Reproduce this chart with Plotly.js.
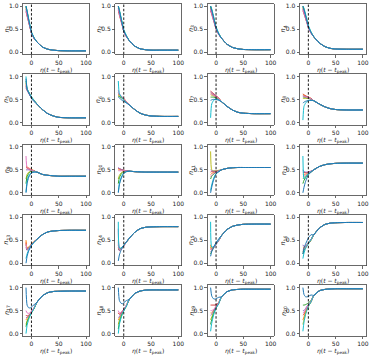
<!DOCTYPE html>
<html>
<head>
<meta charset="utf-8">
<script src="https://cdn.plot.ly/plotly-3.0.1.min.js"></script>
<style>
  html, body { margin: 0; padding: 0; background: #fff; }
  #plot { width: 374px; height: 357px; }
</style>
</head>
<body>
<div id="plot"></div>
<script>
// early part of each curve is read at these x, the shared tail at X_TAIL
const X_HEAD = [-10, -8, -5, -2, 0, 5];
const X_TAIL = [10, 20, 30, 40, 50, 70, 100];

// curve order in every panel: red, orange, olive, green, purple, pink, cyan, blue
const COLORS = ['#d62728', '#ff7f0e', '#bcbd22', '#2ca02c', '#9467bd', '#e377c2', '#17becf', '#1f77b4'];

const n1Head = [[0.88,0.78,0.64,0.5,0.41,0.29],[0.95,0.84,0.67,0.51,0.42,0.29],[1.0,0.88,0.7,0.53,0.43,0.3],[0.98,0.87,0.69,0.52,0.42,0.3],
  [0.93,0.83,0.66,0.51,0.41,0.29],[0.9,0.8,0.65,0.5,0.41,0.29],[1.0,0.9,0.72,0.55,0.44,0.31],[1.0,0.88,0.69,0.52,0.42,0.3]];
const n1Tail = [0.22,0.11,0.06,0.04,0.03,0.025,0.025];

const n2Head = [[0.9,0.8,0.67,0.54,0.45,0.33],[0.96,0.86,0.71,0.56,0.46,0.34],[1.0,0.9,0.74,0.58,0.47,0.35],[1.0,0.89,0.73,0.57,0.46,0.34],
  [0.95,0.85,0.7,0.55,0.45,0.33],[0.93,0.83,0.69,0.55,0.45,0.33],[1.0,0.92,0.76,0.6,0.49,0.36],[1.0,0.89,0.72,0.56,0.46,0.34]];
const n2Tail = [0.25,0.13,0.07,0.05,0.04,0.04,0.04];

const n3Head = [[0.9,0.82,0.7,0.58,0.5,0.38],[0.95,0.87,0.74,0.6,0.51,0.39],[1.0,0.92,0.78,0.63,0.53,0.4],[0.98,0.9,0.76,0.61,0.52,0.39],
  [0.94,0.86,0.73,0.6,0.51,0.38],[0.92,0.84,0.71,0.58,0.5,0.38],[1.0,0.94,0.8,0.65,0.55,0.41],[1.0,0.91,0.76,0.61,0.52,0.39]];
const n3Tail = [0.3,0.17,0.1,0.07,0.055,0.05,0.05];

const n4Head = [[0.9,0.83,0.72,0.61,0.53,0.41],[0.95,0.88,0.76,0.63,0.54,0.42],[1.0,0.93,0.8,0.66,0.56,0.43],[0.98,0.91,0.78,0.64,0.55,0.42],
  [0.94,0.87,0.75,0.63,0.54,0.41],[0.92,0.85,0.73,0.61,0.53,0.41],[1.0,0.95,0.82,0.68,0.58,0.44],[1.0,0.92,0.78,0.64,0.55,0.42]];
const n4Tail = [0.33,0.2,0.12,0.08,0.065,0.06,0.06];

const n5Head = [[0.75,0.7,0.64,0.58,0.54,0.47],[0.8,0.71,0.65,0.58,0.54,0.47],[0.85,0.72,0.65,0.59,0.55,0.47],[0.9,0.73,0.66,0.59,0.55,0.47],
  [0.78,0.7,0.63,0.57,0.53,0.46],[0.82,0.71,0.64,0.57,0.53,0.46],[1.0,0.74,0.66,0.6,0.56,0.48],[0.95,0.72,0.64,0.57,0.52,0.45]];
const n5Tail = [0.4,0.28,0.19,0.14,0.11,0.1,0.1];

const n6Head = [[0.6,0.6,0.57,0.54,0.52,0.45],[0.62,0.6,0.57,0.54,0.52,0.45],[0.58,0.57,0.55,0.52,0.5,0.44],[0.57,0.56,0.54,0.51,0.49,0.43],
  [0.65,0.61,0.57,0.53,0.5,0.44],[0.7,0.62,0.58,0.54,0.51,0.45],[0.9,0.62,0.57,0.52,0.49,0.43],[0.55,0.53,0.5,0.47,0.46,0.42]];
const n6Tail = [0.38,0.28,0.2,0.16,0.14,0.13,0.13];

const n7Head = [[0.68,0.66,0.63,0.6,0.58,0.53],[0.64,0.62,0.6,0.58,0.56,0.52],[0.6,0.59,0.58,0.56,0.55,0.51],[0.55,0.55,0.55,0.54,0.53,0.5],
  [0.66,0.64,0.61,0.59,0.57,0.52],[0.62,0.61,0.59,0.57,0.56,0.51],[0.1,0.4,0.47,0.5,0.5,0.49],[0.48,0.49,0.5,0.5,0.5,0.48]];
const n7Tail = [0.45,0.35,0.27,0.22,0.2,0.19,0.19];

const n8Head = [[0.62,0.6,0.58,0.56,0.55,0.52],[0.6,0.59,0.57,0.55,0.54,0.52],[0.52,0.52,0.52,0.52,0.52,0.5],[0.55,0.55,0.54,0.53,0.53,0.51],
  [0.58,0.57,0.56,0.55,0.54,0.51],[0.57,0.56,0.55,0.54,0.54,0.51],[0.05,0.35,0.42,0.46,0.47,0.48],[0.42,0.44,0.46,0.47,0.48,0.48]];
const n8Tail = [0.47,0.4,0.34,0.3,0.28,0.27,0.27];

const n9Head = [[0.55,0.54,0.52,0.5,0.5,0.47],[0.58,0.56,0.54,0.52,0.51,0.48],[0.3,0.4,0.45,0.47,0.48,0.47],[0.2,0.35,0.42,0.46,0.47,0.47],
  [0.5,0.5,0.5,0.49,0.49,0.47],[0.8,0.55,0.53,0.51,0.5,0.47],[0.02,0.25,0.37,0.42,0.44,0.45],[0.0,0.2,0.34,0.4,0.43,0.45]];
const n9Tail = [0.45,0.4,0.38,0.37,0.36,0.36,0.36];

const n10Head = [[0.53,0.52,0.51,0.5,0.49,0.48],[0.5,0.5,0.5,0.49,0.49,0.48],[0.3,0.38,0.43,0.46,0.47,0.47],[0.2,0.33,0.4,0.44,0.46,0.47],
  [0.55,0.53,0.51,0.5,0.49,0.48],[0.48,0.48,0.48,0.48,0.48,0.47],[0.02,0.2,0.33,0.4,0.43,0.46],[0.0,0.18,0.3,0.38,0.42,0.46]];
const n10Tail = [0.47,0.46,0.455,0.45,0.45,0.45,0.45];

const n11Head = [[0.45,0.46,0.46,0.46,0.47,0.48],[0.4,0.42,0.44,0.45,0.46,0.48],[0.9,0.5,0.48,0.48,0.48,0.49],[0.3,0.36,0.4,0.43,0.45,0.47],
  [0.5,0.48,0.47,0.47,0.47,0.48],[0.35,0.39,0.42,0.44,0.45,0.47],[0.05,0.17,0.3,0.38,0.42,0.46],[0.0,0.12,0.26,0.36,0.41,0.46]];
const n11Tail = [0.5,0.53,0.545,0.55,0.55,0.55,0.55];

const n12Head = [[0.45,0.44,0.44,0.44,0.45,0.47],[0.4,0.4,0.41,0.42,0.43,0.46],[0.3,0.33,0.37,0.4,0.42,0.46],[0.2,0.27,0.33,0.38,0.41,0.45],
  [0.5,0.46,0.45,0.45,0.45,0.47],[0.35,0.36,0.39,0.41,0.43,0.46],[0.8,0.3,0.35,0.39,0.42,0.46],[0.0,0.12,0.25,0.34,0.39,0.45]];
const n12Tail = [0.5,0.57,0.61,0.63,0.64,0.645,0.645];

const n13Head = [[0.45,0.3,0.33,0.38,0.41,0.47],[0.5,0.33,0.35,0.39,0.42,0.47],[0.4,0.32,0.35,0.38,0.41,0.47],[0.3,0.3,0.33,0.37,0.4,0.46],
  [0.35,0.28,0.32,0.37,0.4,0.46],[0.42,0.3,0.33,0.38,0.41,0.47],[0.1,0.2,0.29,0.35,0.39,0.46],[0.0,0.15,0.27,0.34,0.39,0.46]];
const n13Tail = [0.52,0.62,0.68,0.7,0.71,0.715,0.715];

const n14Head = [[0.4,0.28,0.3,0.35,0.38,0.46],[0.35,0.28,0.31,0.35,0.38,0.46],[0.5,0.3,0.32,0.36,0.39,0.46],[0.3,0.3,0.32,0.36,0.39,0.46],
  [0.45,0.27,0.3,0.35,0.38,0.46],[0.75,0.3,0.31,0.35,0.38,0.46],[0.9,0.33,0.33,0.36,0.39,0.46],[0.05,0.18,0.28,0.35,0.39,0.47]];
const n14Tail = [0.54,0.67,0.75,0.78,0.79,0.795,0.795];

const n15Head = [[0.3,0.32,0.35,0.39,0.42,0.5],[0.4,0.3,0.34,0.38,0.42,0.5],[0.35,0.31,0.34,0.39,0.42,0.5],[0.2,0.26,0.32,0.38,0.41,0.5],
  [0.25,0.28,0.33,0.38,0.41,0.49],[0.33,0.3,0.33,0.38,0.42,0.5],[0.9,0.35,0.36,0.4,0.43,0.51],[0.15,0.25,0.33,0.4,0.45,0.53]];
const n15Tail = [0.6,0.73,0.8,0.83,0.845,0.85,0.85];

const n16Head = [[0.3,0.32,0.36,0.4,0.43,0.51],[0.35,0.34,0.37,0.41,0.44,0.52],[0.25,0.3,0.35,0.4,0.43,0.51],[0.2,0.27,0.34,0.39,0.42,0.5],
  [0.4,0.36,0.38,0.41,0.44,0.52],[0.28,0.3,0.35,0.4,0.43,0.51],[0.1,0.22,0.32,0.39,0.43,0.52],[0.2,0.33,0.42,0.5,0.55,0.62]];
const n16Tail = [0.62,0.76,0.84,0.87,0.88,0.885,0.885];

const n17Head = [[0.4,0.38,0.4,0.44,0.48,0.56],[0.3,0.33,0.38,0.43,0.47,0.56],[0.2,0.28,0.35,0.42,0.46,0.55],[0.15,0.25,0.34,0.41,0.45,0.55],
  [0.35,0.35,0.39,0.43,0.47,0.56],[0.5,0.45,0.44,0.46,0.49,0.57],[0.0,0.18,0.31,0.4,0.45,0.55],[1.0,0.62,0.56,0.56,0.58,0.63]];
const n17Tail = [0.68,0.82,0.89,0.915,0.92,0.925,0.925];

const n18Head = [[0.45,0.42,0.45,0.5,0.53,0.62],[0.3,0.34,0.41,0.47,0.51,0.61],[0.2,0.3,0.39,0.46,0.5,0.61],[0.1,0.24,0.36,0.45,0.5,0.6],
  [0.35,0.37,0.43,0.48,0.52,0.61],[0.5,0.45,0.46,0.5,0.53,0.62],[0.0,0.2,0.34,0.44,0.49,0.6],[1.0,0.72,0.66,0.65,0.67,0.72]];
const n18Tail = [0.74,0.87,0.925,0.945,0.95,0.95,0.95];

const n19Head = [[0.62,0.62,0.62,0.62,0.63,0.68],[0.45,0.45,0.49,0.55,0.59,0.67],[0.3,0.36,0.45,0.53,0.57,0.66],[0.2,0.3,0.42,0.51,0.56,0.66],
  [0.4,0.42,0.48,0.54,0.58,0.67],[0.5,0.5,0.52,0.56,0.6,0.67],[0.05,0.22,0.38,0.49,0.55,0.65],[1.0,0.82,0.76,0.75,0.76,0.79]];
const n19Tail = [0.8,0.91,0.95,0.96,0.965,0.965,0.965];

const n20Head = [[0.4,0.42,0.5,0.57,0.61,0.7],[0.3,0.36,0.47,0.55,0.6,0.69],[0.2,0.3,0.44,0.54,0.59,0.69],[0.62,0.62,0.63,0.65,0.67,0.72],
  [0.5,0.5,0.55,0.6,0.63,0.7],[0.45,0.46,0.52,0.58,0.62,0.7],[0.05,0.25,0.42,0.53,0.59,0.69],[1.0,0.85,0.8,0.8,0.81,0.84]];
const n20Tail = [0.83,0.93,0.96,0.97,0.975,0.975,0.975];

const HEADS = [n1Head, n2Head, n3Head, n4Head, n5Head, n6Head, n7Head, n8Head, n9Head, n10Head,
  n11Head, n12Head, n13Head, n14Head, n15Head, n16Head, n17Head, n18Head, n19Head, n20Head];
const TAILS = [n1Tail, n2Tail, n3Tail, n4Tail, n5Tail, n6Tail, n7Tail, n8Tail, n9Tail, n10Tail,
  n11Tail, n12Tail, n13Tail, n14Tail, n15Tail, n16Tail, n17Tail, n18Tail, n19Tail, n20Tail];

const X_LABEL = '<i>η</i>(<i>t</i> − <i>t</i><sub>peak</sub>)';

(function () {
  const W = 374, H = 357;
  const FONT = 'DejaVu Sans, sans-serif';

  var data = [];
  var shapes = [];
  var annotations = [];
  var layout = {
    width: W, height: H,
    margin: {l: 0, r: 0, t: 0, b: 0},
    paper_bgcolor: '#fff', plot_bgcolor: '#fff',
    showlegend: false,
    font: {family: FONT, size: 6, color: '#222'}
  };

  var xs = X_HEAD.concat(X_TAIL);

  for (var p = 0; p < 20; p++) {
    var col = p % 4, row = Math.floor(p / 4);
    var pxLeft = 23 + col * 92.3, pxTop = 3.7 + row * 70.4;
    var pxRight = pxLeft + 66, pxBottom = pxTop + 50.6;
    var k = p + 1;
    var suf = k === 1 ? '' : String(k);
    var xa = 'x' + suf, ya = 'y' + suf;

    HEADS[p].forEach(function (head, i) {
      data.push({
        x: xs, y: head.concat(TAILS[p]),
        xaxis: xa, yaxis: ya,
        type: 'scatter', mode: 'lines',
        line: {color: COLORS[i], width: 1, shape: 'spline', smoothing: 0.6},
        hoverinfo: 'skip'
      });
    });

    var axCommon = {
      showgrid: false, zeroline: false,
      showline: true, mirror: true, linecolor: '#444', linewidth: 0.8,
      ticks: 'outside', ticklen: 2.5, tickwidth: 0.8, tickcolor: '#444',
      tickfont: {family: FONT, size: 6, color: '#222'},
      automargin: false
    };

    layout['xaxis' + suf] = Object.assign({}, axCommon, {
      domain: [pxLeft / W, pxRight / W], anchor: ya,
      range: [-15.5, 105.5], tickvals: [0, 50, 100]
    });
    layout['yaxis' + suf] = Object.assign({}, axCommon, {
      domain: [1 - pxBottom / H, 1 - pxTop / H], anchor: xa,
      range: [-0.05, 1.05], tickvals: [0, 0.5, 1], tickformat: '.1f'
    });

    shapes.push({
      type: 'line', xref: xa, yref: ya + ' domain',
      x0: 0, x1: 0, y0: 0, y1: 1,
      line: {color: '#000', width: 0.9, dash: '2.5px,1.8px'}
    });

    annotations.push({
      text: X_LABEL, xref: 'paper', yref: 'paper',
      x: (pxLeft + 33) / W, y: 1 - (pxBottom + 9.5) / H,
      xanchor: 'center', yanchor: 'top', showarrow: false,
      font: {family: FONT, size: 6, color: '#222'}
    });
    annotations.push({
      text: '<i>n</i><sub>' + k + '</sub>', xref: 'paper', yref: 'paper',
      x: (pxLeft - 16.5) / W, y: 1 - (pxTop + 25.3) / H,
      xanchor: 'center', yanchor: 'middle', showarrow: false, textangle: -90,
      font: {family: FONT, size: 6.5, color: '#222'}
    });
  }
  layout.shapes = shapes;
  layout.annotations = annotations;

  Plotly.newPlot('plot', data, layout, {staticPlot: true, displayModeBar: false});
})();
</script>
</body>
</html>
